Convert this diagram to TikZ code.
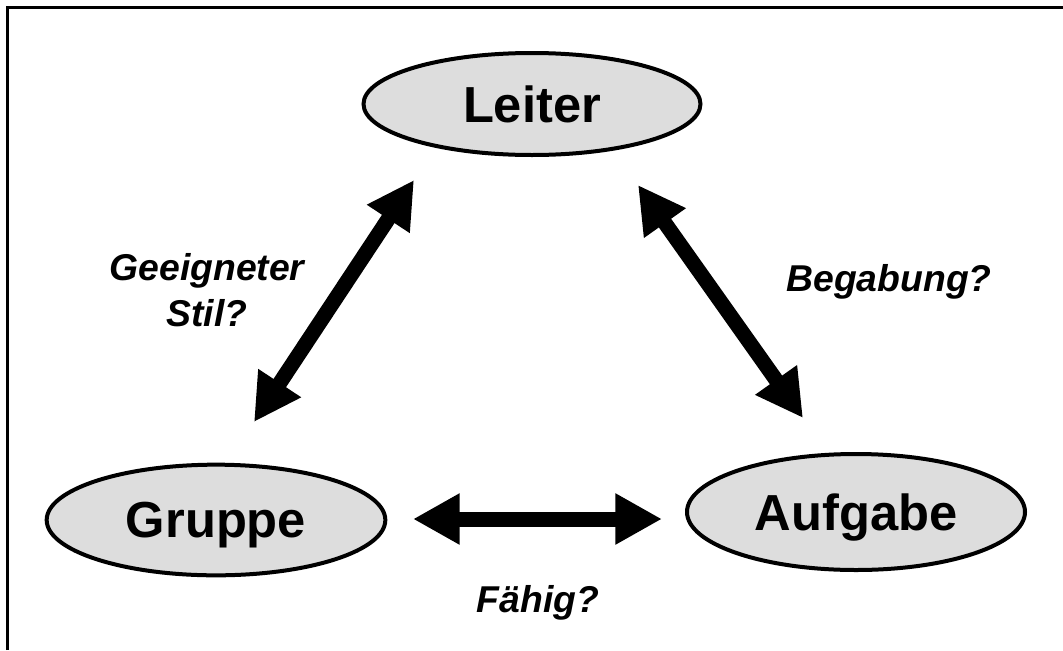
\documentclass[tikz,border=0pt]{standalone}
\usepackage{fontspec}
\setmainfont{Liberation Sans}
\usetikzlibrary{shapes.geometric,arrows.meta}
\definecolor{boxgray}{HTML}{DDDDDD}
\begin{document}
\begin{tikzpicture}[x=0.75pt,y=-0.75pt,
  topic/.style={ellipse, draw, line width=3pt, fill=boxgray, inner sep=0pt,
    font=\fontsize{38}{45}\selectfont\bfseries, text depth=0pt},
  question/.style={font=\fontsize{28}{35}\selectfont\bfseries\itshape, align=center, inner sep=0pt},
  twoway/.style={line width=11.25pt, {Triangle[length=35pt,width=36pt]}-{Triangle[length=35pt,width=36pt]}}]
\useasboundingbox (0,0) rectangle (1063,650);

% frame
\draw[line width=2.25pt] (7,650) -- (7,7) -- (1063,7);

% the three corners
\node[topic, minimum width=252.75pt, minimum height=76.5pt] (leiter) at (532,104) {Leiter};
\node[topic, minimum width=254pt, minimum height=83pt] (gruppe) at (216,520) {Gruppe};
\node[topic, minimum width=253.5pt, minimum height=87pt] (aufgabe) at (856,512) {Aufgabe};

% arrow end points
\coordinate (gl-a) at (254,422);
\coordinate (gl-b) at (414,180);
\coordinate (la-a) at (638,185);
\coordinate (la-b) at (803,418);
\coordinate (ga-a) at (413,519);
\coordinate (ga-b) at (662,519);

% double-headed arrows
\draw[twoway] (gl-a) -- (gl-b);
\draw[twoway] (la-a) -- (la-b);
\draw[twoway] (ga-a) -- (ga-b);

% questions
\node[question] (stil) at (207,290) {Geeigneter\\Stil?};
\node[question] (begabung) at (889,282) {Begabung?};
\node[question] (faehig) at (538,603) {Fähig?};
\end{tikzpicture}
\end{document}
